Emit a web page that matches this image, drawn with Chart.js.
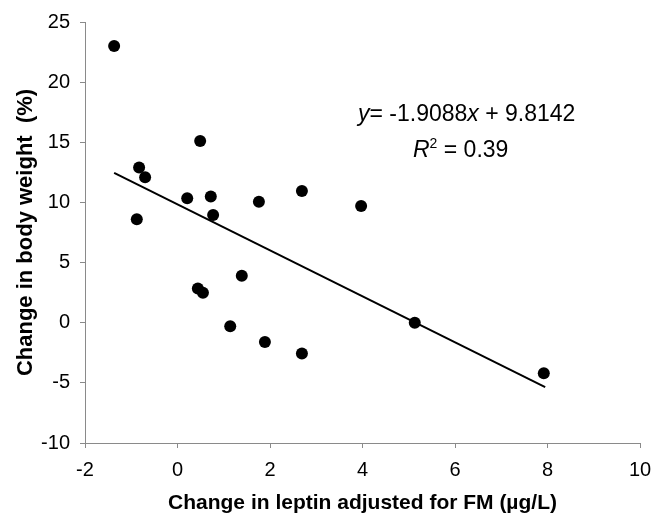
<!DOCTYPE html>
<html>
<head>
<meta charset="utf-8">
<script src="https://cdn.jsdelivr.net/npm/chart.js@4.4.1/dist/chart.umd.min.js"></script>
<style>
  html, body { margin: 0; padding: 0; background: #fff; }
  #wrap { width: 664px; height: 526px; position: relative; }
</style>
</head>
<body>
<div id="wrap"><canvas id="chart"></canvas></div>
<script>
  // values
  const leptinChange = [-1.37, -0.83, -0.70, -0.88, 0.49, 0.21, 0.72, 0.77, 1.76, 2.69, 3.97, 1.39, 0.44, 0.55, 1.14, 1.89, 2.69, 5.13, 7.92];
  const weightChange = [23.0, 12.9, 12.1, 8.6, 15.1, 10.35, 10.5, 8.95, 10.05, 10.95, 9.7, 3.9, 2.85, 2.5, -0.3, -1.6, -2.55, 0.0, -4.2];

  // fitted line end points as drawn
  const trendX = [-1.37, 7.95];
  const trendY = [12.45, -5.36];

  const xRange = { min: -2, max: 10, step: 2 };
  const yRange = { min: -10, max: 25, step: 5 };

  const xTitle = "Change in leptin adjusted for FM (\u00b5g/L)";
  const yTitle = "Change in body weight  (%)";
  const equationText = ["-1.9088", " + 9.8142"];
  const rSquaredText = "= 0.39";

  const FONT = '"Liberation Sans", Arial, sans-serif';
  const axisGrey = "#8a8a8a";

  const points = leptinChange.map((x, i) => ({ x, y: weightChange[i] }));
  const trend = trendX.map((x, i) => ({ x, y: trendY[i] }));

  function drawRuns(ctx, runs, x, y) {
    let cx = x;
    runs.forEach((run) => {
      const size = run.size || 23;
      ctx.font = `${run.italic ? "italic " : ""}${size}px ${FONT}`;
      ctx.fillText(run.text, cx, y - (run.raise || 0));
      cx += ctx.measureText(run.text).width;
    });
  }

  const equationPlugin = {
    id: "equation",
    afterDraw(chart) {
      const ctx = chart.ctx;
      ctx.save();
      ctx.fillStyle = "#000";
      ctx.textBaseline = "alphabetic";
      ctx.textAlign = "left";
      drawRuns(ctx, [
        { text: "y", italic: true },
        { text: "= " + equationText[0] },
        { text: "x", italic: true },
        { text: equationText[1] }
      ], 358, 121);
      drawRuns(ctx, [
        { text: "R", italic: true },
        { text: "2", size: 14, raise: 9 },
        { text: " " + rSquaredText }
      ], 413, 157);
      ctx.restore();
    }
  };

  new Chart(document.getElementById("chart").getContext("2d"), {
    type: "scatter",
    data: {
      datasets: [
        {
          label: "Fit",
          data: trend,
          showLine: true,
          borderColor: "#000",
          borderWidth: 2,
          pointRadius: 0,
          fill: false
        },
        {
          label: "Subjects",
          data: points,
          backgroundColor: "#000",
          borderColor: "#000",
          borderWidth: 0,
          pointRadius: 6
        }
      ]
    },
    options: {
      responsive: true,
      maintainAspectRatio: false,
      animation: false,
      layout: { padding: { left: 0, top: 20, right: 24, bottom: 0 } },
      plugins: { legend: { display: false }, tooltip: { enabled: false } },
      scales: {
        x: {
          type: "linear",
          min: xRange.min,
          max: xRange.max,
          afterFit: (scale) => { scale.height = 83; },
          ticks: { stepSize: xRange.step, color: "#000", padding: 10, font: { family: FONT, size: 20 } },
          grid: { drawOnChartArea: false, drawTicks: true, tickLength: 5, color: axisGrey },
          border: { display: true, color: axisGrey, width: 1 },
          title: { display: true, text: xTitle, color: "#000", padding: { top: 0, bottom: 10 }, font: { family: FONT, size: 21, weight: "bold" } }
        },
        y: {
          type: "linear",
          min: yRange.min,
          max: yRange.max,
          afterFit: (scale) => { scale.width = 85; },
          ticks: { stepSize: yRange.step, color: "#000", padding: 10, font: { family: FONT, size: 20 } },
          grid: { drawOnChartArea: false, drawTicks: true, tickLength: 5, color: axisGrey },
          border: { display: true, color: axisGrey, width: 1 },
          title: { display: true, text: yTitle, color: "#000", padding: { top: 13, bottom: 0 }, font: { family: FONT, size: 22, weight: "bold" } }
        }
      }
    },
    plugins: [equationPlugin]
  });
</script>
</body>
</html>
